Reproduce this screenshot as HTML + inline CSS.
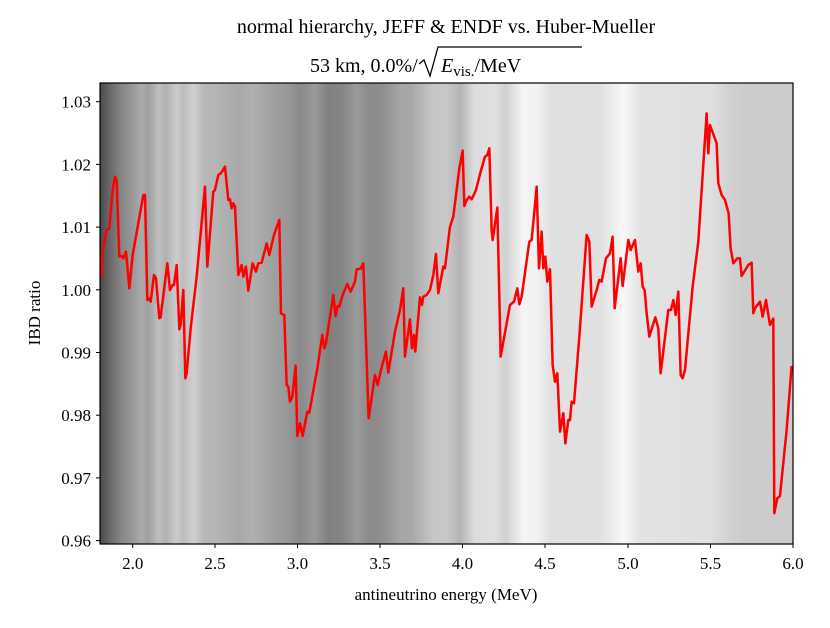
<!DOCTYPE html>
<html><head><meta charset="utf-8"><style>
body{margin:0;background:#fff;}
text{font-family:"Liberation Serif","DejaVu Serif",serif;fill:#000;}
</style></head><body>
<svg width="830" height="623" xmlns="http://www.w3.org/2000/svg">
<defs>
<linearGradient id="bg" x1="0" x2="1" y1="0" y2="0">
<stop offset="0" stop-color="#4a4a4a"/>
<stop offset="0.015" stop-color="#6a6a6a"/>
<stop offset="0.03" stop-color="#858585"/>
<stop offset="0.045" stop-color="#959595"/>
<stop offset="0.06" stop-color="#aaaaaa"/>
<stop offset="0.07" stop-color="#a0a0a0"/>
<stop offset="0.085" stop-color="#c0c0c0"/>
<stop offset="0.095" stop-color="#b0b0b0"/>
<stop offset="0.11" stop-color="#cccccc"/>
<stop offset="0.12" stop-color="#bcbcbc"/>
<stop offset="0.135" stop-color="#d0d0d0"/>
<stop offset="0.15" stop-color="#b8b8b8"/>
<stop offset="0.17" stop-color="#b4b4b4"/>
<stop offset="0.2" stop-color="#a8a8a8"/>
<stop offset="0.22" stop-color="#b0b0b0"/>
<stop offset="0.25" stop-color="#a0a0a0"/>
<stop offset="0.27" stop-color="#989898"/>
<stop offset="0.29" stop-color="#8a8a8a"/>
<stop offset="0.31" stop-color="#9a9a9a"/>
<stop offset="0.33" stop-color="#808080"/>
<stop offset="0.35" stop-color="#858585"/>
<stop offset="0.37" stop-color="#9a9a9a"/>
<stop offset="0.39" stop-color="#8a8a8a"/>
<stop offset="0.41" stop-color="#909090"/>
<stop offset="0.43" stop-color="#a4a4a4"/>
<stop offset="0.45" stop-color="#a8a8a8"/>
<stop offset="0.48" stop-color="#c6c6c6"/>
<stop offset="0.50" stop-color="#c8c8c8"/>
<stop offset="0.52" stop-color="#b4b4b4"/>
<stop offset="0.54" stop-color="#dcdcdc"/>
<stop offset="0.57" stop-color="#e0e0e0"/>
<stop offset="0.585" stop-color="#d0d0d0"/>
<stop offset="0.61" stop-color="#f4f4f4"/>
<stop offset="0.63" stop-color="#f2f2f2"/>
<stop offset="0.65" stop-color="#e0e0e0"/>
<stop offset="0.72" stop-color="#e0e0e0"/>
<stop offset="0.755" stop-color="#f8f8f8"/>
<stop offset="0.78" stop-color="#e2e2e2"/>
<stop offset="0.88" stop-color="#e0e0e0"/>
<stop offset="0.91" stop-color="#d0d0d0"/>
<stop offset="0.93" stop-color="#cccccc"/>
<stop offset="1" stop-color="#cccccc"/>
</linearGradient>
</defs>
<rect x="100" y="83" width="693" height="461" fill="url(#bg)"/>
<g fill="none" stroke="#ff0000" stroke-width="7.5" stroke-linejoin="round">
<polyline transform="translate(90,80) scale(0.3333)" points="35,590 38,510 50,450 58,445 68,330 75,290 80,300 88,530 95,528 100,535 108,515 118,625 128,525 160,345 165,345 172,660 178,655 182,665 192,585 198,595 208,715 212,712 232,550 240,630 248,615 252,615 260,555 268,748 272,735 280,630 286,895 290,880 302,745 320,590 345,320 352,560 370,335 375,330 385,285 392,280 398,272 400,268 405,260 415,360 420,358 425,385 430,370 435,380 445,585 455,555 460,590 468,560 475,632 488,550 498,575 505,550 515,548 530,490 538,525 552,465 568,420 573,700 583,705 590,915 595,920 600,965 607,950 617,857 622,1068 630,1030 638,1068 652,995 658,998 683,860 697,765 703,805 708,790 730,645 737,708 743,678 748,680 758,645 772,612 782,635 795,605 800,568 812,566 820,550 836,1015 855,885 863,915 873,870 888,815 895,878 915,755 930,690 940,625 945,830 960,718 966,805 972,765 976,815 990,652 996,675 1000,650 1010,645 1020,630 1030,585 1038,522 1045,640 1060,560 1065,565 1080,440"/>
<polyline transform="translate(440,80) scale(0.3333)" points="30,440 40,410 58,265 68,212 73,378 80,360 88,350 95,358 108,330 122,275 135,230 142,225 148,205 155,450 158,480 172,383 182,830 200,730 210,675 222,665 232,625 238,673 245,650 268,485 275,480 290,320 297,565 305,455 310,565 316,530 322,605 330,568 338,855 345,905 352,880 360,1055 370,1000 376,1090 385,1020 390,1020 395,965 402,970 418,770 440,465 448,485 455,680 470,630 478,600 485,605 498,535 506,525 510,520 518,470 524,685 542,535 548,618 565,480 572,510 585,480 595,575 602,550 608,620 614,630 620,700 628,770 646,712 655,745 662,880 685,690 693,690 700,660 707,705 715,635 722,885 728,895 735,870 758,620 775,485 800,100 805,220 810,135 830,190 835,310 845,345 855,360 866,400 872,505 880,550 892,535 900,535 905,588 925,555 935,548 940,700 945,685 960,665 968,710 978,660 990,735 1000,716 1003,1300 1012,1255 1020,1248 1040,1050 1055,858"/>
</g>
<rect x="100" y="83" width="693" height="461" fill="none" stroke="#000" stroke-width="1.2"/>
<g stroke="#000" stroke-width="1">
<line x1="132.7" y1="544" x2="132.7" y2="548"/><line x1="215" y1="544" x2="215" y2="548"/>
<line x1="297.5" y1="544" x2="297.5" y2="548"/><line x1="380" y1="544" x2="380" y2="548"/>
<line x1="462.5" y1="544" x2="462.5" y2="548"/><line x1="545" y1="544" x2="545" y2="548"/>
<line x1="628" y1="544" x2="628" y2="548"/><line x1="710.5" y1="544" x2="710.5" y2="548"/>
<line x1="793" y1="544" x2="793" y2="548"/>
<line x1="96" y1="101.7" x2="100" y2="101.7"/><line x1="96" y1="164.4" x2="100" y2="164.4"/>
<line x1="96" y1="227.1" x2="100" y2="227.1"/><line x1="96" y1="289.8" x2="100" y2="289.8"/>
<line x1="96" y1="352.5" x2="100" y2="352.5"/><line x1="96" y1="415.2" x2="100" y2="415.2"/>
<line x1="96" y1="477.9" x2="100" y2="477.9"/><line x1="96" y1="540.6" x2="100" y2="540.6"/>
</g>
<g font-size="17" text-anchor="middle">
<text x="132.7" y="569">2.0</text><text x="215" y="569">2.5</text><text x="297.5" y="569">3.0</text>
<text x="380" y="569">3.5</text><text x="462.5" y="569">4.0</text><text x="545" y="569">4.5</text>
<text x="628" y="569">5.0</text><text x="710.5" y="569">5.5</text><text x="793" y="569">6.0</text>
</g>
<g font-size="17" text-anchor="end">
<text x="91" y="107.7">1.03</text><text x="91" y="170.4">1.02</text><text x="91" y="233.1">1.01</text>
<text x="91" y="295.8">1.00</text><text x="91" y="358.5">0.99</text><text x="91" y="421.2">0.98</text>
<text x="91" y="483.9">0.97</text><text x="91" y="546.6">0.96</text>
</g>
<text x="446" y="600" font-size="17" text-anchor="middle">antineutrino energy (MeV)</text>
<text transform="translate(40,313) rotate(-90)" font-size="17" text-anchor="middle">IBD ratio</text>
<text x="446" y="33" font-size="20" text-anchor="middle">normal hierarchy, JEFF &amp; ENDF vs. Huber-Mueller</text>
<text x="310" y="72" font-size="20">53 km, 0.0%/</text>
<path d="M419,64 L424,60 L430,76 L438,47 L582,47" fill="none" stroke="#000" stroke-width="1.3"/>
<text x="441" y="72" font-size="20"><tspan font-style="italic">E</tspan><tspan font-size="15" dy="4">vis.</tspan><tspan dy="-4">/MeV</tspan></text>
</svg>
</body></html>
